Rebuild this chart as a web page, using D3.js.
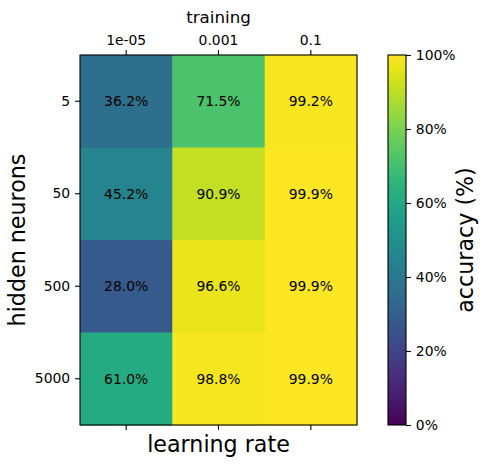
<!DOCTYPE html>
<html>
<head>
<meta charset="utf-8">
<script src="https://cdn.jsdelivr.net/npm/d3@7"></script>
<style>
    body { margin: 0; background: #fff; }
    text { font-family: "DejaVu Sans", sans-serif; fill: #000; }
</style>
</head>
<body>
<div id="chart"></div>
<script>
// learning rates (columns) and hidden neuron counts (rows)
const learningRates = ["1e-05", "0.001", "0.1"];
const hiddenNeurons = ["5", "50", "500", "5000"];
// accuracy (%) per row, one value per learning rate
const acc5 = [36.2, 71.5, 99.2];
const acc50 = [45.2, 90.9, 99.9];
const acc500 = [28.0, 96.6, 99.9];
const acc5000 = [61.0, 98.8, 99.9];
const colorbarTicks = [0, 20, 40, 60, 80, 100];

const rows = [acc5, acc50, acc500, acc5000];
const cells = [];
rows.forEach((vals, ri) => {
    vals.forEach((v, ci) => {
        cells.push({row: hiddenNeurons[ri], col: learningRates[ci], value: v});
    });
});

const W = 490, H = 469;
const plot = {left: 80, top: 55, right: 357, bottom: 425};
const cbar = {left: 388, right: 406, top: 55, bottom: 425};
const tickLen = 4.9, tickPad = 4.9;

const svg = d3.select("#chart").append("svg")
    .attr("width", W)
    .attr("height", H);

const xScale = d3.scaleBand().domain(learningRates).range([plot.left, plot.right]);
const yScale = d3.scaleBand().domain(hiddenNeurons).range([plot.top, plot.bottom]);
const color = d3.scaleSequential(d3.interpolateViridis).domain([0, 100]);

// heatmap cells
svg.append("g").selectAll("rect")
    .data(cells)
    .join("rect")
    .attr("x", d => xScale(d.col))
    .attr("y", d => yScale(d.row))
    .attr("width", xScale.bandwidth() + 0.5)
    .attr("height", yScale.bandwidth() + 0.5)
    .attr("fill", d => color(d.value))
;

// annotations
svg.append("g").selectAll("text")
    .data(cells)
    .join("text")
    .attr("x", d => xScale(d.col) + xScale.bandwidth() / 2)
    .attr("y", d => yScale(d.row) + yScale.bandwidth() / 2)
    .attr("text-anchor", "middle")
    .attr("dominant-baseline", "central")
    .style("font-size", "13.9px")
    .text(d => d.value.toFixed(1) + "%")
;

// axes
const styleAxis = (g) => {
    g.select(".domain").remove();
    g.selectAll(".tick line").attr("stroke", "#000").attr("stroke-width", 1.1);
    g.selectAll(".tick text").style("font-size", "13.9px").attr("fill", "#000");
};

svg.append("g")
    .attr("transform", "translate(0," + plot.top + ")")
    .call(d3.axisTop(xScale).tickSize(tickLen).tickPadding(tickPad))
    .call(styleAxis)
;
svg.append("g")
    .attr("transform", "translate(0," + plot.bottom + ")")
    .call(d3.axisBottom(xScale).tickSize(tickLen).tickFormat(""))
    .call(styleAxis)
;
svg.append("g")
    .attr("transform", "translate(" + plot.left + ",0)")
    .call(d3.axisLeft(yScale).tickSize(tickLen).tickPadding(tickPad))
    .call(styleAxis)
;

// frame
svg.append("rect")
    .attr("x", plot.left)
    .attr("y", plot.top)
    .attr("width", plot.right - plot.left)
    .attr("height", plot.bottom - plot.top)
    .attr("fill", "none")
    .attr("stroke", "#000")
    .attr("stroke-width", 1.1)
;

// labels
svg.append("text")
    .attr("x", (plot.left + plot.right) / 2)
    .attr("y", 22.5)
    .attr("text-anchor", "middle")
    .style("font-size", "16.7px")
    .text("training")
;
svg.append("text")
    .attr("x", (plot.left + plot.right) / 2)
    .attr("y", 452)
    .attr("text-anchor", "middle")
    .style("font-size", "22.2px")
    .text("learning rate")
;
svg.append("text")
    .attr("transform", "translate(25," + (plot.top + plot.bottom) / 2 + ") rotate(-90)")
    .attr("text-anchor", "middle")
    .style("font-size", "22.2px")
    .text("hidden neurons")
;

// colorbar
const grad = svg.append("defs").append("linearGradient")
    .attr("id", "viridisGrad")
    .attr("x1", "0").attr("y1", "1").attr("x2", "0").attr("y2", "0");
grad.selectAll("stop")
    .data(d3.range(0, 1.0001, 0.02))
    .join("stop")
    .attr("offset", d => d)
    .attr("stop-color", d => d3.interpolateViridis(d))
;
svg.append("rect")
    .attr("x", cbar.left)
    .attr("y", cbar.top)
    .attr("width", cbar.right - cbar.left)
    .attr("height", cbar.bottom - cbar.top)
    .attr("fill", "url(#viridisGrad)")
    .attr("stroke", "#000")
    .attr("stroke-width", 1.1)
;
const cScale = d3.scaleLinear().domain([0, 100]).range([cbar.bottom, cbar.top]);
svg.append("g")
    .attr("transform", "translate(" + cbar.right + ",0)")
    .call(d3.axisRight(cScale).tickValues(colorbarTicks).tickSize(tickLen).tickPadding(tickPad)
        .tickFormat(d => d + "%"))
    .call(styleAxis)
;
svg.append("text")
    .attr("transform", "translate(473," + (cbar.top + cbar.bottom) / 2 + ") rotate(-90)")
    .attr("text-anchor", "middle")
    .style("font-size", "22.2px")
    .text("accuracy (%)")
;
</script>
</body>
</html>
